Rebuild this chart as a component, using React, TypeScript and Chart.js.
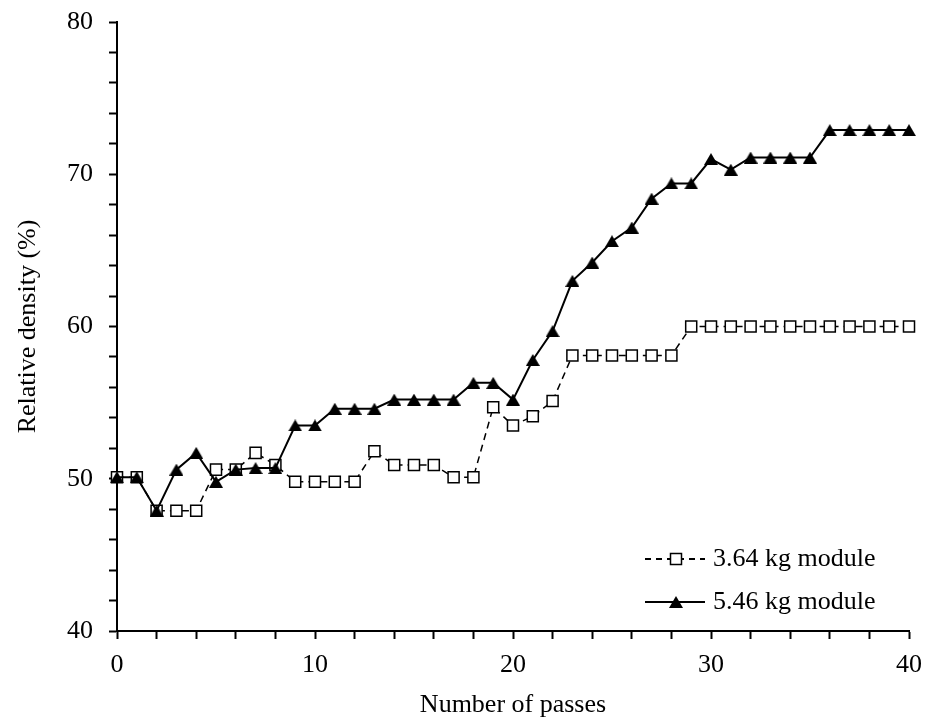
import React, { useEffect, useRef } from 'react';
import { Chart, registerables } from 'chart.js';

Chart.register(...registerables);

const passes = [0, 1, 2, 3, 4, 5, 6, 7, 8, 9, 10, 11, 12, 13, 14, 15, 16, 17, 18, 19, 20, 21, 22, 23, 24, 25, 26, 27, 28, 29, 30, 31, 32, 33, 34, 35, 36, 37, 38, 39, 40];

const module364 = [50.1, 50.1, 47.9, 47.9, 47.9, 50.6, 50.6, 51.7, 50.9, 49.8, 49.8, 49.8, 49.8, 51.8, 50.9, 50.9, 50.9, 50.1, 50.1, 54.7, 53.5, 54.1, 55.1, 58.1, 58.1, 58.1, 58.1, 58.1, 58.1, 60.0, 60.0, 60.0, 60.0, 60.0, 60.0, 60.0, 60.0, 60.0, 60.0, 60.0, 60.0];

const module546 = [50.1, 50.1, 47.9, 50.6, 51.7, 49.8, 50.6, 50.7, 50.7, 53.5, 53.5, 54.6, 54.6, 54.6, 55.2, 55.2, 55.2, 55.2, 56.3, 56.3, 55.2, 57.8, 59.7, 63.0, 64.2, 65.6, 66.5, 68.4, 69.4, 69.4, 71.0, 70.3, 71.1, 71.1, 71.1, 71.1, 72.9, 72.9, 72.9, 72.9, 72.9];

const seriesLabels = ['3.64 kg module', '5.46 kg module'];
const xMajorLabels = [0, 10, 20, 30, 40];
const yMajorLabels = [40, 50, 60, 70, 80];

const FONT = "'Liberation Serif', 'Times New Roman', serif";

function makeTriangle(w: number, h: number) {
  const c = document.createElement('canvas');
  c.width = w;
  c.height = h;
  const g = c.getContext('2d')!;
  g.fillStyle = '#000';
  g.beginPath();
  g.moveTo(w / 2, 0);
  g.lineTo(w, h);
  g.lineTo(0, h);
  g.closePath();
  g.fill();
  return c;
}

export default function App() {
  const ref = useRef<HTMLCanvasElement>(null);

  useEffect(() => {
    if (!ref.current) return;
    const tri = makeTriangle(14, 12);

    const legendPlugin = {
      id: 'insideLegend',
      afterDraw(chart: any) {
        const { ctx, chartArea } = chart;
        const rows = [
          { y: chartArea.bottom - 72, dash: [6, 5], marker: 'square', label: seriesLabels[0] },
          { y: chartArea.bottom - 29, dash: [], marker: 'triangle', label: seriesLabels[1] },
        ];
        ctx.save();
        rows.forEach((r) => {
          const x0 = chartArea.right - 264;
          const x1 = chartArea.right - 204;
          const mx = chartArea.right - 233;
          ctx.strokeStyle = '#000';
          ctx.lineWidth = 2;
          ctx.setLineDash(r.dash);
          ctx.beginPath();
          ctx.moveTo(x0, r.y);
          ctx.lineTo(x1, r.y);
          ctx.stroke();
          ctx.setLineDash([]);
          if (r.marker === 'square') {
            ctx.fillStyle = '#fff';
            ctx.lineWidth = 1.5;
            ctx.fillRect(mx - 5.5, r.y - 5.5, 11, 11);
            ctx.strokeRect(mx - 5.5, r.y - 5.5, 11, 11);
          } else {
            ctx.drawImage(tri, mx - 7, r.y - 6);
          }
          ctx.fillStyle = '#000';
          ctx.font = `26px ${FONT}`;
          ctx.textBaseline = 'middle';
          ctx.textAlign = 'left';
          ctx.fillText(r.label, chartArea.right - 196, r.y);
        });
        ctx.restore();
      },
    };

    const chart = new Chart(ref.current, {
      type: 'line',
      data: {
        datasets: [
          {
            label: seriesLabels[0],
            data: passes.map((x, i) => ({ x, y: module364[i] })),
            borderColor: '#000',
            borderWidth: 1.5,
            borderDash: [7, 5],
            pointStyle: 'rect',
            pointRadius: 7.8,
            pointBorderWidth: 1.5,
            pointBorderColor: '#000',
            pointBackgroundColor: '#fff',
            tension: 0,
            clip: false,
            order: 1,
          },
          {
            label: seriesLabels[1],
            data: passes.map((x, i) => ({ x, y: module546[i] })),
            borderColor: '#000',
            borderWidth: 2,
            pointStyle: tri,
            pointRadius: 7,
            pointBackgroundColor: '#000',
            tension: 0,
            clip: false,
            order: 0,
          },
        ],
      },
      options: {
        responsive: false,
        animation: false,
        devicePixelRatio: 1,
        layout: { autoPadding: false, padding: { top: 22, right: 25, left: 0, bottom: 0 } },
        plugins: {
          legend: { display: false },
          tooltip: { enabled: false },
        },
        scales: {
          x: {
            type: 'linear',
            min: 0,
            max: 40,
            afterFit: (s: any) => {
              s.height = 89;
              s.paddingLeft = 0;
              s.paddingRight = 0;
            },
            ticks: {
              stepSize: 2,
              autoSkip: false,
              maxRotation: 0,
              padding: 11,
              color: '#000',
              font: { family: FONT, size: 26 },
              callback: (v: any) => (xMajorLabels.includes(Number(v)) ? String(v) : ''),
            },
            grid: {
              drawOnChartArea: false,
              drawTicks: true,
              tickLength: 8,
              tickWidth: 2,
              color: '#000',
            },
            border: { display: true, color: '#000', width: 2 },
            title: {
              display: true,
              text: 'Number of passes',
              color: '#000',
              font: { family: FONT, size: 26, weight: 'normal' },
              padding: { top: 0, bottom: -1 },
            },
          },
          y: {
            type: 'linear',
            min: 40,
            max: 80,
            afterFit: (s: any) => {
              s.width = 117;
              s.paddingTop = 0;
              s.paddingBottom = 0;
            },
            ticks: {
              stepSize: 2,
              autoSkip: false,
              padding: 16,
              color: '#000',
              font: { family: FONT, size: 26 },
              callback: (v: any) => (yMajorLabels.includes(Number(v)) ? String(v) : ''),
            },
            grid: {
              drawOnChartArea: false,
              drawTicks: true,
              tickLength: 8,
              tickWidth: 2,
              color: '#000',
            },
            border: { display: true, color: '#000', width: 2 },
            title: {
              display: true,
              text: 'Relative density (%)',
              color: '#000',
              font: { family: FONT, size: 26, weight: 'normal' },
              padding: { top: 13, bottom: 0 },
            },
          },
        },
      },
      plugins: [legendPlugin],
    } as any);

    return () => chart.destroy();
  }, []);

  return (
    <div style={{ position: 'fixed', left: 0, top: 0, width: 934, height: 720, background: '#fff' }}>
      <canvas ref={ref} width={934} height={720} />
    </div>
  );
}
